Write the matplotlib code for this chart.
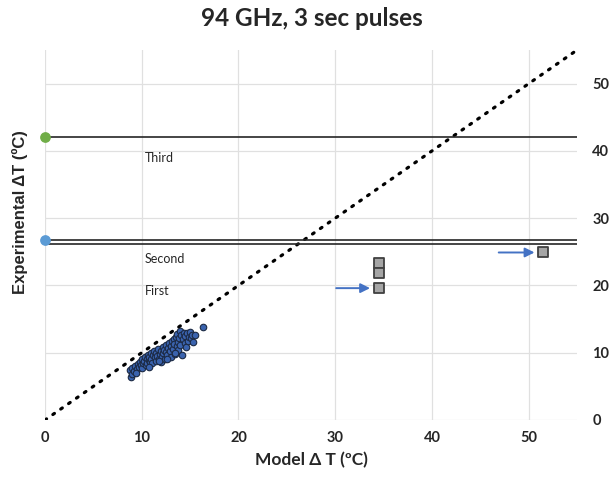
import numpy as np
import matplotlib.pyplot as plt

plt.rcParams['font.family'] = ['Lato', 'DejaVu Sans']

# Measured vs model temperature rise for each pulse
model_dt = [8.8, 8.9, 9.0, 9.0, 9.2, 9.3, 9.5, 9.6, 9.7, 9.8, 9.9, 10.0, 10.0, 10.1,
            10.2, 10.3, 10.4, 10.5, 10.5, 10.6, 10.7, 10.8, 10.9, 11.0, 11.0, 11.1,
            11.2, 11.3, 11.4, 11.5, 11.5, 11.6, 11.7, 11.8, 11.9, 12.0, 12.0, 12.1,
            12.2, 12.2, 12.3, 12.4, 12.5, 12.5, 12.6, 12.7, 12.8, 12.9, 13.0, 13.0,
            13.1, 13.2, 13.3, 13.3, 13.4, 13.5, 13.6, 13.6, 13.7, 13.8, 13.9, 14.0,
            14.0, 14.1, 14.2, 14.3, 14.4, 14.5, 14.5, 14.6, 14.7, 14.8, 14.9, 15.0,
            15.1, 15.2, 15.3, 15.5, 16.3, 11.8, 12.6, 13.4, 10.8, 9.4]
exp_dt = [7.4, 6.4, 6.9, 7.8, 7.3, 8.0, 7.6, 8.3, 7.9, 8.6, 8.1, 7.7, 9.0, 8.4,
          8.8, 9.3, 8.2, 9.0, 8.5, 9.6, 8.9, 9.3, 8.6, 9.9, 9.1, 8.4,
          9.6, 10.2, 9.3, 8.7, 10.0, 9.5, 10.5, 9.0, 9.8, 10.3, 8.6, 9.4,
          10.8, 9.9, 10.4, 9.1, 11.2, 10.1, 9.6, 10.7, 11.5, 10.2, 11.0, 9.3,
          11.8, 10.5, 12.1, 11.3, 9.8, 12.4, 11.0, 12.8, 11.6, 10.4, 12.2, 13.2,
          11.2, 12.6, 9.6, 12.0, 13.0, 11.5, 12.5, 10.8, 12.9, 11.8, 12.3, 13.1,
          12.2, 12.7, 11.6, 12.6, 13.8, 8.8, 9.0, 9.9, 7.9, 7.0]

# Grey squares and their arrows
square_x = [34.5, 34.5, 34.5, 51.5]
square_y = [23.4, 21.9, 19.6, 24.9]

# Threshold levels
third_level = 42.0
second_levels = [26.8, 26.2]
first_label_y = 19.2

fig = plt.figure(figsize=(6.13, 4.79), dpi=100)
ax = fig.add_axes([0.0734, 0.1232, 0.868, 0.7724])

ax.set_xlim(0, 55)
ax.set_ylim(0, 55)
ax.set_xticks(np.arange(0, 51, 10))
ax.set_yticks(np.arange(0, 51, 10))
ax.grid(True, color='#e0e0e0', linewidth=0.9)
ax.set_axisbelow(True)
for s in ax.spines.values():
    s.set_visible(False)
ax.yaxis.tick_right()
ax.tick_params(length=0, labelsize=10.5, colors='#262626')
ax.tick_params(axis='y', pad=11)
ax.tick_params(axis='x', pad=8)
for lbl in ax.get_xticklabels() + ax.get_yticklabels():
    lbl.set_fontweight('bold')

# 1:1 line
ax.plot([0, 55], [0, 55], color='black', linestyle=(0, (0.6, 2.4)),
        linewidth=2.3, dash_capstyle='round', zorder=2)

# horizontal reference levels
ax.axhline(third_level, color='#262626', linewidth=1.2, zorder=2)
for lv in second_levels:
    ax.axhline(lv, color='#262626', linewidth=1.2, zorder=2)
ax.scatter([0], [third_level], s=45, color='#70AD47', zorder=5, clip_on=False)
ax.scatter([0], [second_levels[0]], s=45, color='#5B9BD5', zorder=5, clip_on=False)

ax.text(10.3, 39.0, 'Third', fontsize=9, color='#262626', va='center')
ax.text(10.3, 24.0, 'Second', fontsize=9, color='#262626', va='center')
ax.text(10.3, first_label_y, 'First', fontsize=9, color='#262626', va='center')

ax.scatter(model_dt, exp_dt, s=22, color='#3A63AE', edgecolor='#1c2a44',
           linewidth=0.8, zorder=4)

ax.scatter(square_x, square_y, marker='s', s=55, color='#A5A5A5',
           edgecolor='#404040', linewidth=1.3, zorder=4)

# arrows pointing at the first and last squares
arrow = dict(arrowstyle='-|>', color='#4472C4', lw=1.4, mutation_scale=14,
             shrinkA=0, shrinkB=0)
ax.annotate('', xy=(square_x[2] - 0.9, square_y[2]),
            xytext=(square_x[2] - 4.4, square_y[2]), arrowprops=arrow)
ax.annotate('', xy=(square_x[3] - 0.9, square_y[3]),
            xytext=(square_x[3] - 4.6, square_y[3]), arrowprops=arrow)

ax.set_xlabel('Model \u0394 T (\u00baC)', fontsize=12.5, fontweight='bold',
              color='#262626', labelpad=5)
fig.text(0.033, 0.557, 'Experimental \u0394T (\u00baC)', rotation=90,
         fontsize=12, fontweight='bold', color='#262626', ha='center', va='center',
         family=['Liberation Sans', 'DejaVu Sans'])
fig.text(0.508, 0.962, '94 GHz, 3 sec pulses', fontsize=17.5, fontweight='bold',
         color='#262626', ha='center', va='center')

fig.savefig('out.png', dpi=100)
